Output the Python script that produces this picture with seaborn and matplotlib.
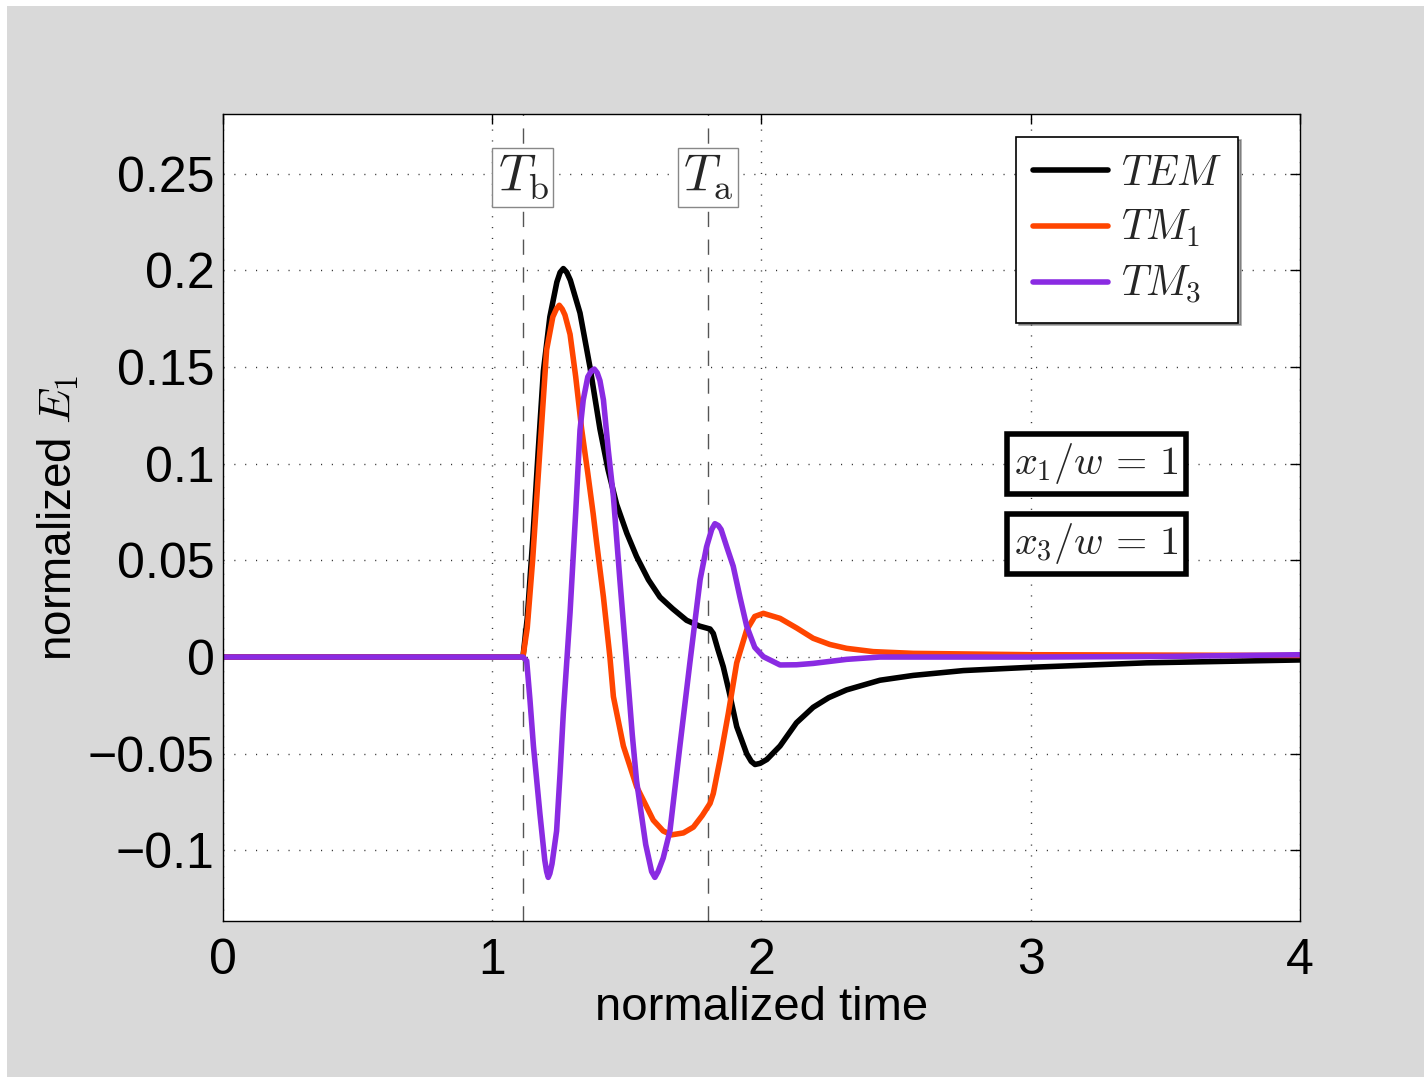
import numpy as np
import pandas as pd
import seaborn as sns
import matplotlib
matplotlib.use("Agg")
import matplotlib.pyplot as plt
from matplotlib.patches import Rectangle

# values (normalized time, normalized E1)
tem_t = [0, 1.114, 1.13, 1.15, 1.17, 1.19, 1.214, 1.24, 1.252, 1.264, 1.277, 1.29, 1.326, 1.363,
         1.40, 1.43, 1.462, 1.50, 1.536, 1.58, 1.623, 1.67, 1.722, 1.77, 1.809,
         1.821, 1.838, 1.858, 1.88, 1.908, 1.945, 1.962, 1.976, 1.995, 2.02, 2.069, 2.13, 2.192,
         2.25, 2.316, 2.44, 2.564, 2.75, 3.0, 3.43, 4.0]
tem_v = [0, 0, 0.02, 0.06, 0.105, 0.148, 0.176, 0.194, 0.199, 0.201, 0.199, 0.195, 0.178, 0.150,
         0.118, 0.097, 0.079, 0.064, 0.052, 0.040, 0.031, 0.025, 0.019, 0.016, 0.0145,
         0.0122, 0.004, -0.005, -0.018, -0.036, -0.050, -0.054, -0.0556, -0.055, -0.053, -0.046,
         -0.034, -0.026, -0.021, -0.017, -0.012, -0.0095, -0.007, -0.0053, -0.003, -0.0015]

tm1_t = [0, 1.114, 1.13, 1.15, 1.177, 1.202, 1.225, 1.238, 1.249, 1.26, 1.27, 1.289, 1.31, 1.332,
         1.355, 1.375, 1.387, 1.413, 1.437, 1.45, 1.487, 1.536, 1.598, 1.635, 1.666, 1.71,
         1.747, 1.78, 1.809, 1.821, 1.846, 1.877, 1.908, 1.945, 1.975, 2.007, 2.069,
         2.131, 2.192, 2.254, 2.316, 2.415, 2.564, 3.0, 4.0]
tm1_v = [0, 0, 0.015, 0.05, 0.107, 0.159, 0.176, 0.180, 0.182, 0.180, 0.177, 0.167, 0.145, 0.118,
         0.095, 0.074, 0.060, 0.031, 0.0, -0.0205, -0.046, -0.067, -0.0844, -0.090, -0.092, -0.091,
         -0.088, -0.082, -0.0757, -0.0706, -0.053, -0.029, -0.003, 0.014, 0.021, 0.0226, 0.020,
         0.015, 0.0097, 0.0065, 0.0045, 0.0028, 0.0019, 0.0012, 0.0008]

tm3_t = [0, 1.114, 1.128, 1.14, 1.153, 1.177, 1.195, 1.202, 1.208, 1.214, 1.222, 1.239, 1.252, 1.264,
         1.289, 1.31, 1.326, 1.338, 1.355, 1.368, 1.379, 1.39, 1.40, 1.413, 1.431, 1.45, 1.474, 1.499,
         1.52, 1.536, 1.57, 1.592, 1.604, 1.616, 1.635, 1.66, 1.697, 1.734, 1.772, 1.796, 1.815, 1.827,
         1.84, 1.85, 1.871, 1.895, 1.92, 1.945, 1.975, 2.007, 2.069, 2.13, 2.192, 2.316, 2.44, 3.0,
         3.5, 4.0]
tm3_v = [0, 0, -0.002, -0.022, -0.046, -0.081, -0.105, -0.111, -0.114, -0.112, -0.107, -0.090,
         -0.060, -0.029, 0.023, 0.075, 0.1175, 0.133, 0.145, 0.148, 0.149, 0.147, 0.143, 0.133,
         0.107, 0.083, 0.040, -0.003, -0.040, -0.064, -0.097, -0.111, -0.114, -0.111, -0.104,
         -0.090, -0.046, -0.003, 0.040, 0.057, 0.066, 0.069, 0.068, 0.066, 0.057, 0.047, 0.031,
         0.016, 0.005, 0.0002, -0.0041, -0.004, -0.0033, -0.0012, 0.0, 0.0, 0.0003, 0.0012]

modes = ["$TEM$", "$TM_1$", "$TM_3$"]
colors = ["black", "#ff4500", "#8a2be2"]

yticks = [-0.1, -0.05, 0, 0.05, 0.1, 0.15, 0.2, 0.25]
ytick_labels = ["\u22120.1", "\u22120.05", "0", "0.05", "0.1", "0.15", "0.2", "0.25"]
xticks = [0, 1, 2, 3, 4]

t_b, t_a = 1.114, 1.801

sns.set_theme(style="white")
plt.rcParams.update({
    "font.family": ["Liberation Sans", "DejaVu Sans"],
    "mathtext.fontset": "cm",
    "axes.edgecolor": "black",
    "axes.linewidth": 1.0,
})

df = pd.concat([
    pd.DataFrame({"t": tem_t, "v": tem_v, "mode": modes[0]}),
    pd.DataFrame({"t": tm1_t, "v": tm1_v, "mode": modes[1]}),
    pd.DataFrame({"t": tm3_t, "v": tm3_v, "mode": modes[2]}),
], ignore_index=True)

fig = plt.figure(figsize=(14.24, 10.77), dpi=100, facecolor="white")
fig.patches.append(Rectangle((7 / 1424, 0), 1, 1 - 6 / 1077, transform=fig.transFigure,
                             facecolor="#d9d9d9", edgecolor="none", zorder=-10))
ax = fig.add_axes([0.1566, 0.1448, 0.7563, 0.7494])
ax.set_facecolor("white")

sns.lineplot(data=df, x="t", y="v", hue="mode", hue_order=modes, palette=colors,
             estimator=None, sort=False, linewidth=4, ax=ax)

ax.set_xlim(0, 4)
ax.set_ylim(-0.1366, 0.281)
ax.set_xticks(xticks)
ax.set_xticklabels([str(x) for x in xticks])
ax.set_yticks(yticks)
ax.set_yticklabels(ytick_labels)
ax.tick_params(direction="in", length=7, width=1, top=True, right=True,
               labelsize=36, colors="black")
ax.tick_params(axis="x", pad=12)
ax.tick_params(axis="y", pad=6)
ax.grid(True, color="#333333", lw=1.0, ls=(0, (0.8, 7)))

ax.set_xlabel("normalized time", fontsize=34, labelpad=2, color="black")
ax.set_ylabel("normalized $E_1$", fontsize=33, labelpad=5, color="black")

# event markers
for tt, lab in [(t_b, r"$T_\mathrm{b}$"), (t_a, r"$T_\mathrm{a}$")]:
    ax.axvline(tt, color="#555555", lw=1.0, ls=(0, (11, 9)), zorder=1.8)
    ax.text(tt, 0.248, lab, ha="center", va="center", fontsize=37, zorder=5,
            bbox=dict(boxstyle="square,pad=0.1", fc="white", ec="#888888", lw=1))

for yy, lab in [(0.0999, r"$x_1/w\,=\,1$"), (0.0585, r"$x_3/w\,=\,1$")]:
    ax.text(3.244, yy, lab, ha="center", va="center", fontsize=29, zorder=5,
            bbox=dict(boxstyle="square,pad=0.18", fc="white", ec="black", lw=4))

handles, labels = ax.get_legend_handles_labels()
leg = ax.legend(handles, labels, loc="upper right", bbox_to_anchor=(0.9424, 0.9715),
                borderaxespad=0, fontsize=30, frameon=True, fancybox=False, shadow=True,
                edgecolor="black", framealpha=1, handlelength=1.8, labelspacing=0.35,
                handletextpad=0.3, borderpad=0.4)
leg.get_frame().set_linewidth(1.2)
for h in leg.legend_handles:
    h.set_linewidth(4)

fig.savefig("out.png", dpi=100, facecolor=fig.get_facecolor())
